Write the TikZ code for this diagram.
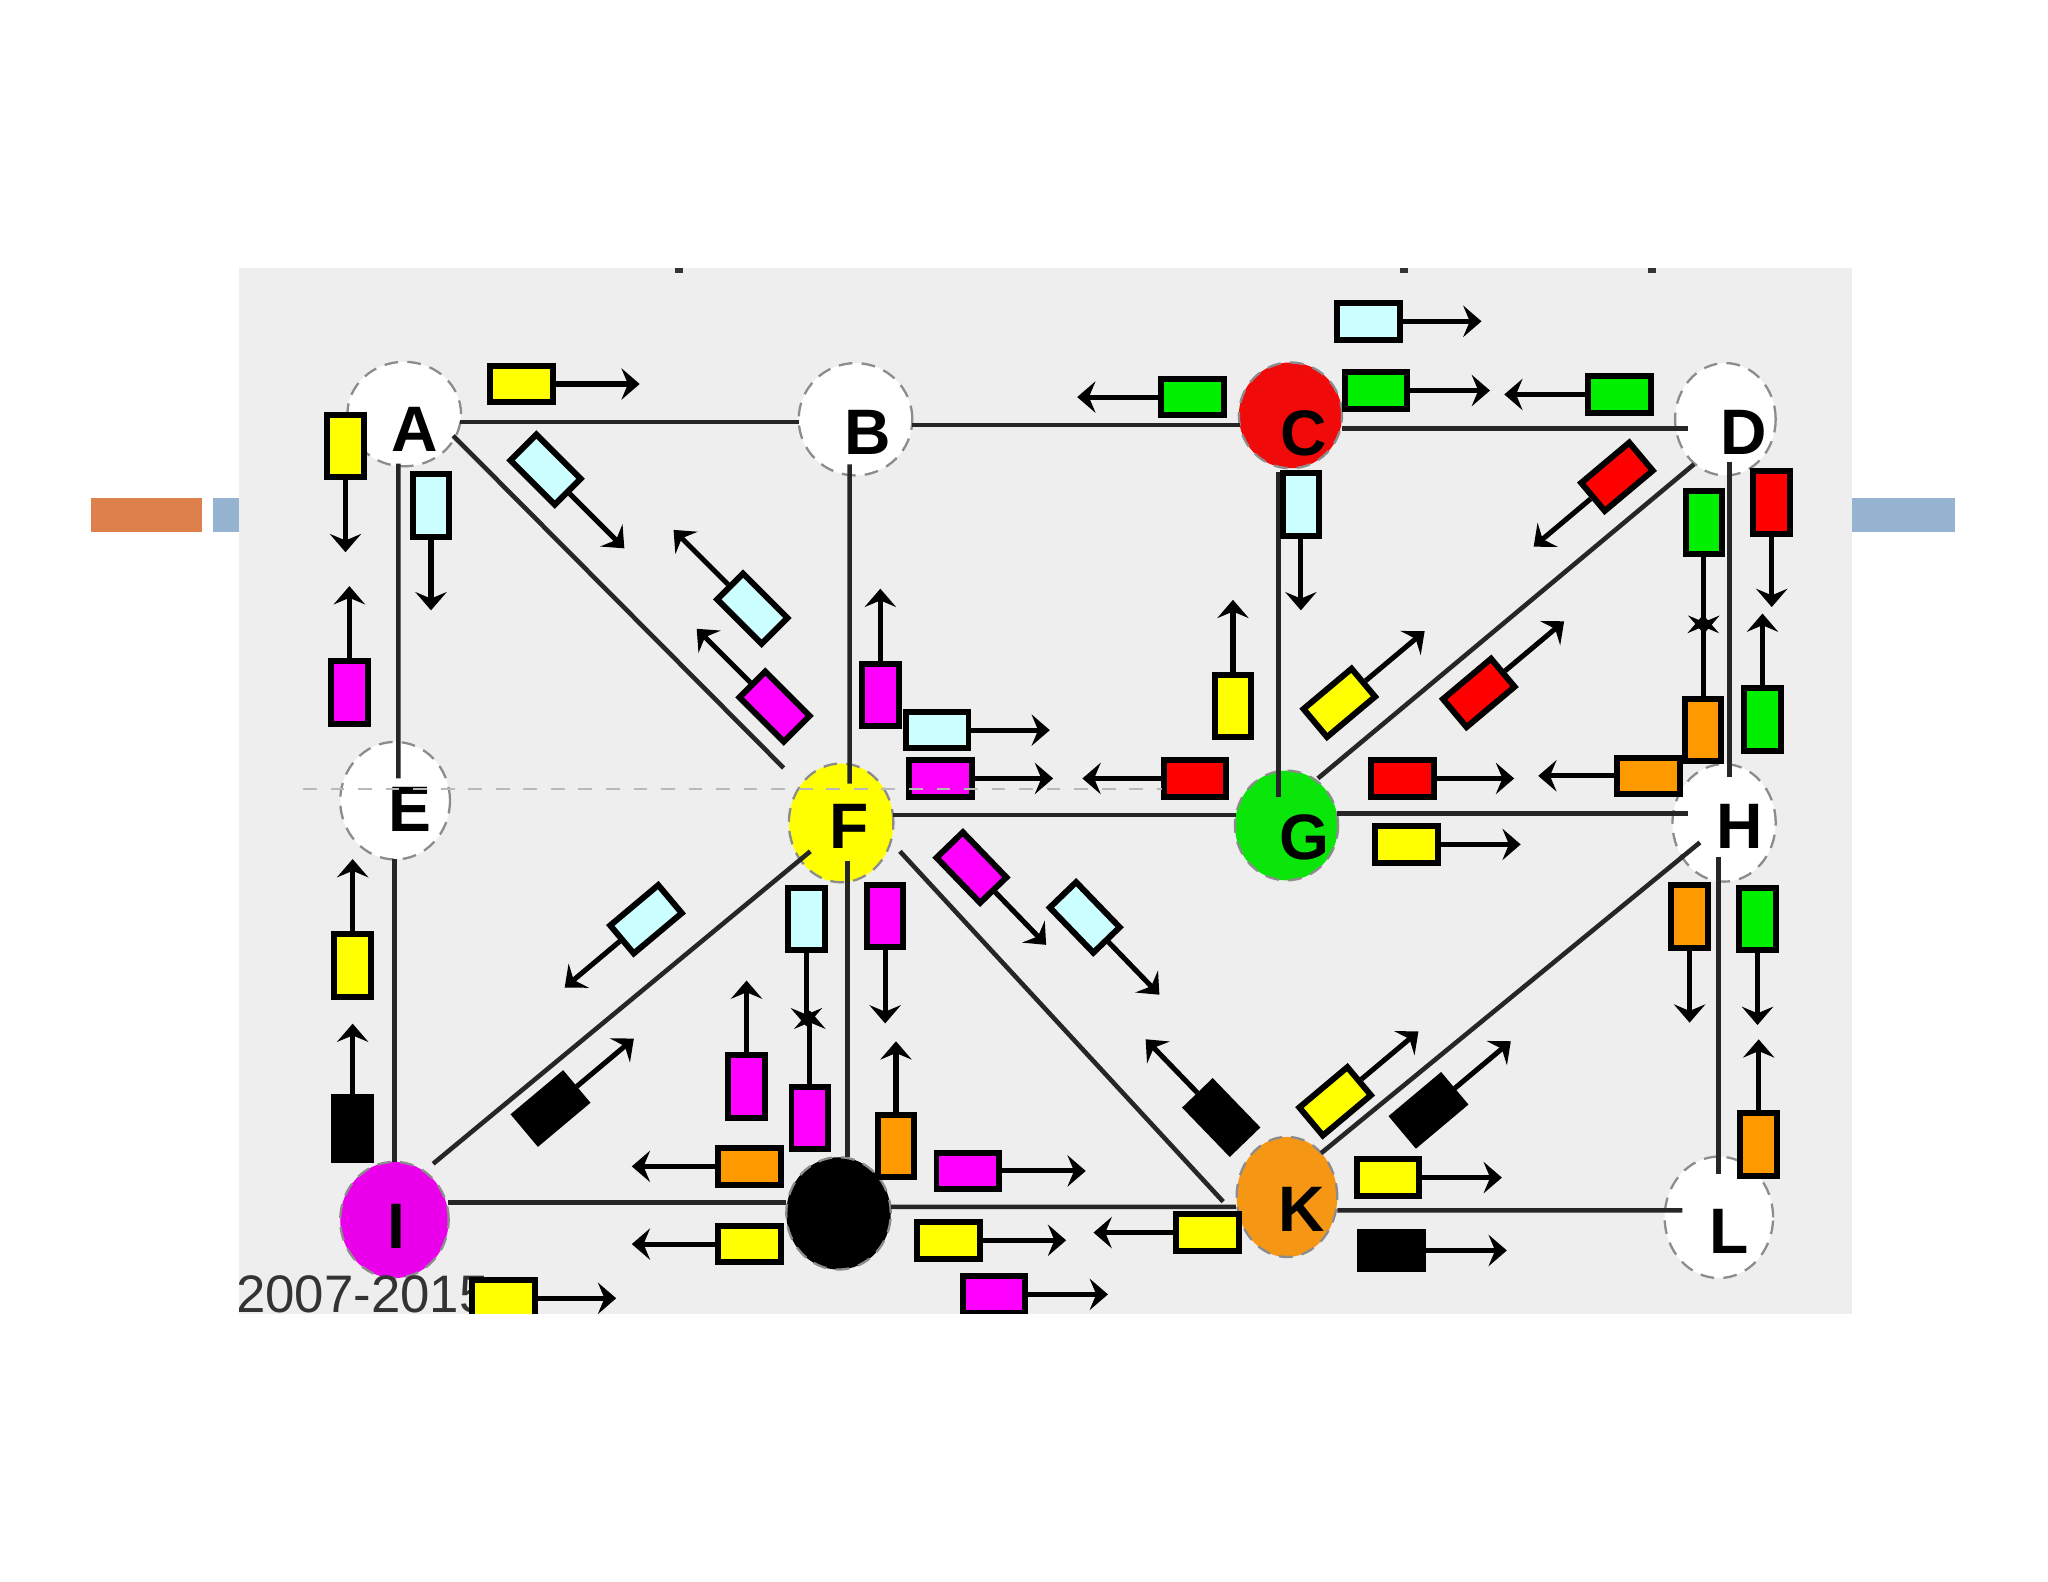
\documentclass[tikz,border=0pt]{standalone}
\usepackage{fontspec}
\setmainfont{Liberation Sans}
\usetikzlibrary{calc, arrows.meta, shapes.geometric}

\definecolor{panel}{RGB}{238,238,238}
\definecolor{barorange}{RGB}{222,128,76}
\definecolor{barblue}{RGB}{150,180,210}
\definecolor{pyellow}{RGB}{255,255,0}
\definecolor{pcyan}{RGB}{204,255,255}
\definecolor{pmagenta}{RGB}{255,0,255}
\definecolor{pgreen}{RGB}{0,240,0}
\definecolor{pred}{RGB}{255,0,0}
\definecolor{porange}{RGB}{255,153,0}
\definecolor{hubred}{RGB}{240,10,10}
\definecolor{hubyellow}{RGB}{255,255,0}
\definecolor{hubgreen}{RGB}{10,230,10}
\definecolor{hubmagenta}{RGB}{235,0,235}
\definecolor{huborange}{RGB}{245,150,20}

\begin{document}
\begin{tikzpicture}[x=0.1mm, y=-0.1mm,
  hub/.style={ellipse, draw=black!45, densely dashed, line width=0.5pt, inner sep=0pt},
  tag/.style={inner sep=0pt, text depth=0pt, font=\fontsize{14}{14}\selectfont\bfseries},
  link/.style={black!85, line width=1pt},
  pkt/.style={draw=black, line width=1.3pt, minimum width=4.8mm, minimum height=2.8mm, inner sep=0pt},
  flow/.style={-{Stealth[length=1.4mm, width=2.4mm, inset=0.5mm]}, line width=1.1pt}]

\useasboundingbox (0,0) rectangle (1568,1211);

% ------------------------------------------------------------------
% SLIDE BARS and grey panel
% ------------------------------------------------------------------
\fill[barorange] (70,381) rectangle (155,407);
\fill[barblue] (163,381) rectangle (1497,407);
\fill[panel] (183,205) rectangle (1418,1006);

\begin{scope}
\clip (183,205) rectangle (1418,1006);

% small marks on the upper edge
\foreach \tx in {520,1075,1265}
  \fill[black!80] (\tx-3,205) rectangle (\tx+3,209);

% ------------------------------------------------------------------
% ROUTERS
% ------------------------------------------------------------------
\foreach \n/\x/\y/\w/\h/\col in {
    A/309.5/317/8.7/8.0/white, B/655/321/8.7/8.6/white,
    C/988/318/7.9/8.1/hubred, D/1321/321/7.7/8.6/white,
    E/302.5/613/8.4/9.0/white, F/644/630/8.0/9.1/hubyellow,
    G/985/632/7.9/8.4/hubgreen, H/1320/630/7.9/9.0/white,
    I/302/934/8.3/8.9/hubmagenta, J/642/929/8.0/8.6/black,
    K/985.3/916.4/7.7/9.2/huborange, L/1316/932/8.3/9.3/white}
  \node[hub, fill=\col, minimum width=\w mm, minimum height=\h mm] (\n) at (\x,\y) {};

% ------------------------------------------------------------------
% LINKS
% ------------------------------------------------------------------
\foreach \a/\ax/\ay/\b/\bx/\by in {
    A/43/6/B/-43/2, B/43/4.4/C/-39/7.4, C/39.5/10/D/-29/7,
    A/-4.5/38/E/2.5/-17, E/-0.5/45/I/0/-44, B/-4.5/34.5/F/6.5/-30,
    C/-9/43/G/-6/-22, D/3/32.5/H/4/-35.4, F/4.7/29/J/6.7/-43.2,
    H/-4.5/26/L/-0.5/-33, F/40/-6/G/-39/-8, G/39/-9/H/-28/-7,
    I/41/-13.4/J/-40/-8.4, J/40/-5/K/-39/7.6, K/38.7/10.3/L/-28/-5.3,
    A/37.5/16.6/F/-44/-42, D/-24/34.4/G/24/-36, F/-23.6/21.8/I/29.6/-43,
    F/45/21.8/K/-48.8/3.6, H/-18.5/15/K/26.2/-33.5}
  \draw[link] ($(\a)+(\ax,\ay)$) -- ($(\b)+(\bx,\by)$);

% router letters
\foreach \n/\dx/\dy in {A/8/12, B/9.5/10, C/10/13.5, D/14/10, E/11/7, F/6/3,
    G/14/9, H/11.7/2.7, I/1.5/5, K/11/9.6, L/7.5/10.4}
  \node[tag] (\n-txt) at ($(\n)+(\dx,\dy)$) {\n};

\node[anchor=base west, inner sep=0pt, font=\fontsize{11.5}{12}\selectfont, text=black!80]
  (years) at (180,1005) {2007-2015};

% ------------------------------------------------------------------
% PACKETS: centre / direction / colour / arrow length
% ------------------------------------------------------------------
\foreach \px/\py/\ang/\col/\len [count=\i] in {
    399.5/294/0/pyellow/64, 1048/246/0/pcyan/60, 913/304/180/pgreen/62,
    1053.5/299/0/pgreen/61, 1240/302/180/pgreen/62, 717.5/559/0/pcyan/60,
    720/596/0/pmagenta/60, 915/596/180/pred/60, 1074/596/0/pred/59,
    1262/594/180/porange/58, 1077/646.5/0/pyellow/61, 574/893/180/porange/64,
    574/952.5/180/pyellow/64, 741/896.5/0/pmagenta/64, 726/949.6/0/pyellow/64,
    761/991/0/pmagenta/61, 385.5/994/0/pyellow/60, 924.5/943.7/180/pyellow/61,
    1062.6/901.6/0/pyellow/61, 1065.4/957.4/0/black/62,
    264.5/341.5/90/pyellow/55, 330/387/90/pcyan/54, 267.5/530/-90/pmagenta/55,
    270/739/-90/pyellow/55, 270/864/-90/black/54, 674/532/-90/pmagenta/55,
    996/386/90/pcyan/55, 944/540.5/-90/pyellow/55, 1304.5/400/90/pgreen/59,
    1304/559/-90/porange/62, 1356.5/384.5/90/pred/54, 1349.4/551/-90/pgreen/55,
    1293.6/701.7/90/porange/55, 1345.6/703.5/90/pgreen/55, 1346.5/876/-90/porange/54,
    617.4/703.5/90/pcyan/56, 677.7/701.3/90/pmagenta/56, 571.6/832/-90/pmagenta/55,
    620/856/-90/pmagenta/56, 686/877.5/-90/porange/54,
    417.7/359.5/45/pcyan/59, 576/466/225/pcyan/59, 593/541/225/pmagenta/58,
    1238/365/140/pred/57, 1025.4/538.1/-40/pyellow/59, 1132.2/530.5/-40/pred/59,
    494.6/703.8/140/pcyan/55, 421.5/848.7/-40/black/57, 743.8/664.2/46/pmagenta/56,
    830.5/702.4/46/pcyan/56, 935/855.6/226/black/57, 1022.2/843.2/-40/pyellow/57,
    1093.7/850.1/-40/black/56} {
  \pgfmathsetmacro{\rot}{-1*\ang}
  \node[pkt, fill=\col, rotate=\rot] (p\i) at (\px,\py) {};
  \draw[flow] (p\i.east) -- ++(\ang:\len);
}

% faint guide line
\draw[gray!55, dashed, line width=0.4pt] (232,604) -- (890,604);
\end{scope}

\end{tikzpicture}
\end{document}
